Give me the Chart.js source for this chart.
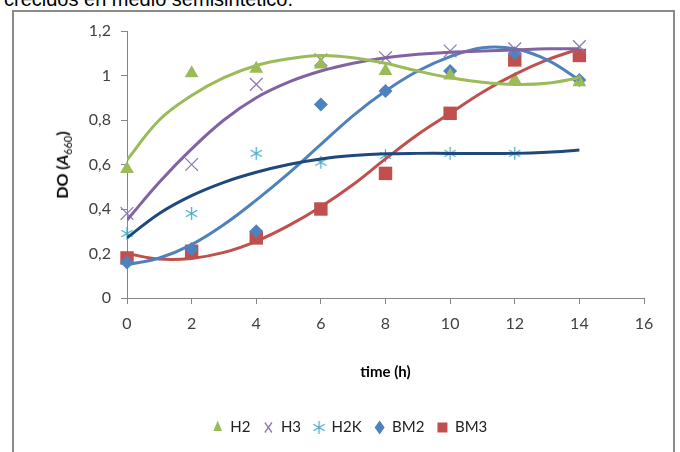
<!DOCTYPE html>
<html>
<head>
<meta charset="utf-8">
<script src="https://cdn.jsdelivr.net/npm/chart.js@4.4.1/dist/chart.umd.min.js"></script>
<style>
  body { margin: 0; background: #fff; }
  #wrap { position: relative; width: 680px; height: 452px; overflow: hidden; background: #fff; }
  #caption { position: absolute; left: 4px; top: -11px; font: 20px/20px "Liberation Sans", Arial, sans-serif; color: #000; white-space: nowrap; }
  #frame { position: absolute; left: 12px; top: 10px; width: 663px; height: 470px; box-sizing: border-box; border: 2px solid #8a8a8a; }
  #c { position: absolute; left: 0; top: 0; }
  #ytitle { position: absolute; left: 63px; top: 165px; transform: translate(-50%, -50%) rotate(-90deg); font: bold 16px Lato, "Open Sans", sans-serif; color: #000; white-space: nowrap; }
  #ytitle sub { font-size: 11px; font-weight: normal; }
</style>
</head>
<body>
<div id="wrap">
  <div id="caption">crecidos en medio semisintético.</div>
  <div id="frame"></div>
  <canvas id="c" width="680" height="452"></canvas>
  <div id="ytitle">DO (<i>A</i><sub>660</sub>)</div>
</div>
<script>
// measured points (time in h, OD at 660 nm)
const hours = [0, 2, 4, 6, 8, 10, 12, 14];
const h2  = [0.58, 1.01, 1.03, 1.05, 1.02, 1.00, 0.98, 0.97];
const h3  = [0.38, 0.60, 0.96, 1.07, 1.08, 1.11, 1.12, 1.13];
const h2k = [0.29, 0.38, 0.65, 0.61, 0.64, 0.65, 0.65, null];
const bm2 = [0.16, 0.22, 0.30, 0.87, 0.93, 1.02, 1.10, 0.98];
const bm3 = [0.18, 0.21, 0.27, 0.40, 0.56, 0.83, 1.07, 1.09];

// trend curves, every hour
const trendHours = [0, 1, 2, 3, 4, 5, 6, 7, 8, 9, 10, 11, 12, 13, 14];
const trendH2  = [0.62, 0.80, 0.91, 0.99, 1.045, 1.075, 1.09, 1.08, 1.055, 1.02, 0.99, 0.97, 0.96, 0.965, 0.99];
const trendH3  = [0.35, 0.52, 0.67, 0.80, 0.90, 0.97, 1.02, 1.055, 1.08, 1.095, 1.105, 1.11, 1.115, 1.12, 1.12];
const trendH2K = [0.27, 0.38, 0.46, 0.52, 0.565, 0.60, 0.625, 0.64, 0.648, 0.65, 0.65, 0.65, 0.65, 0.655, 0.665];
const trendBM2 = [0.15, 0.18, 0.24, 0.33, 0.44, 0.56, 0.69, 0.82, 0.93, 1.02, 1.085, 1.125, 1.12, 1.07, 0.98];
const trendBM3 = [0.20, 0.175, 0.178, 0.205, 0.255, 0.325, 0.41, 0.51, 0.625, 0.735, 0.83, 0.925, 1.005, 1.07, 1.12];

const FONT = 'Lato, "Open Sans", sans-serif';
Chart.defaults.font.family = FONT;

// six-armed asterisk like the Excel marker
function asterisk(size, color) {
  const cv = document.createElement('canvas');
  cv.width = size; cv.height = size;
  const g = cv.getContext('2d');
  const r = size / 2 - 1;
  g.strokeStyle = color;
  g.lineWidth = 1.3;
  g.beginPath();
  [90, 30, 150].forEach(a => {
    const dx = Math.cos(a * Math.PI / 180) * r, dy = Math.sin(a * Math.PI / 180) * r;
    g.moveTo(size / 2 - dx, size / 2 - dy);
    g.lineTo(size / 2 + dx, size / 2 + dy);
  });
  g.stroke();
  return cv;
}

const pts = (xs, ys) => xs.map((x, i) => ({ x: x, y: ys[i] })).filter(p => p.y !== null);

function markers(label, ys, style, color, radius, fill) {
  return {
    label: label,
    data: pts(hours, ys),
    pointStyle: style,
    pointRadius: radius,
    pointHoverRadius: radius,
    backgroundColor: fill ? color : 'transparent',
    borderColor: color,
    borderWidth: fill ? 0 : 1.3,
    showLine: false,
    clip: false,
    order: 1
  };
}

function trend(ys, color) {
  return {
    label: '',
    data: pts(trendHours, ys),
    showLine: true,
    borderColor: color,
    borderWidth: 3,
    pointRadius: 0,
    tension: 0.4,
    fill: false,
    order: 0
  };
}

const axisGray = '#868686';
const comma = v => String(Math.round(v * 10) / 10).replace('.', ',');

new Chart(document.getElementById('c'), {
  type: 'scatter',
  data: {
    datasets: [
      markers('H2', h2, 'triangle', '#9BBB59', 8, true),
      markers('H3', h3, 'crossRot', '#8F78B6', 9, false),
      markers('H2K', h2k, asterisk(15, '#4BACC6'), '#4BACC6', 7, false),
      markers('BM2', bm2, 'rectRot', '#4F81BD', 7, true),
      markers('BM3', bm3, 'rect', '#C0504D', 9.5, true),
      trend(trendH2, '#9BBB59'),
      trend(trendH3, '#8064A2'),
      trend(trendH2K, '#1F497D'),
      trend(trendBM2, '#4F81BD'),
      trend(trendBM3, '#C0504D')
    ]
  },
  options: {
    responsive: false,
    animation: false,
    layout: { padding: { left: 56, right: 36, top: 31, bottom: 7 } },
    scales: {
      x: {
        type: 'linear',
        min: 0,
        max: 16,
        ticks: { stepSize: 2, color: '#404040', font: { size: 16 }, padding: 10 },
        grid: { drawOnChartArea: false, tickLength: 6, color: axisGray },
        border: { color: axisGray },
        title: { display: true, text: 'time (h)', color: '#000', font: { size: 15, weight: 'bold' }, padding: { top: 0, bottom: 26 } },
        afterFit: s => { s.height = 109; }
      },
      y: {
        min: 0,
        max: 1.2,
        ticks: { stepSize: 0.2, color: '#404040', font: { size: 16 }, padding: 10, callback: v => comma(v) },
        grid: { drawOnChartArea: false, tickLength: 6, color: axisGray },
        border: { color: axisGray },
        afterFit: s => { s.width = 71; }
      }
    },
    plugins: {
      legend: {
        position: 'bottom',
        labels: {
          usePointStyle: true,
          pointStyleWidth: 10,
          boxHeight: 10,
          padding: 13,
          color: '#222',
          font: { size: 15 },
          filter: item => item.datasetIndex < 5
        }
      },
      tooltip: { enabled: false }
    }
  }
});
</script>
</body>
</html>
